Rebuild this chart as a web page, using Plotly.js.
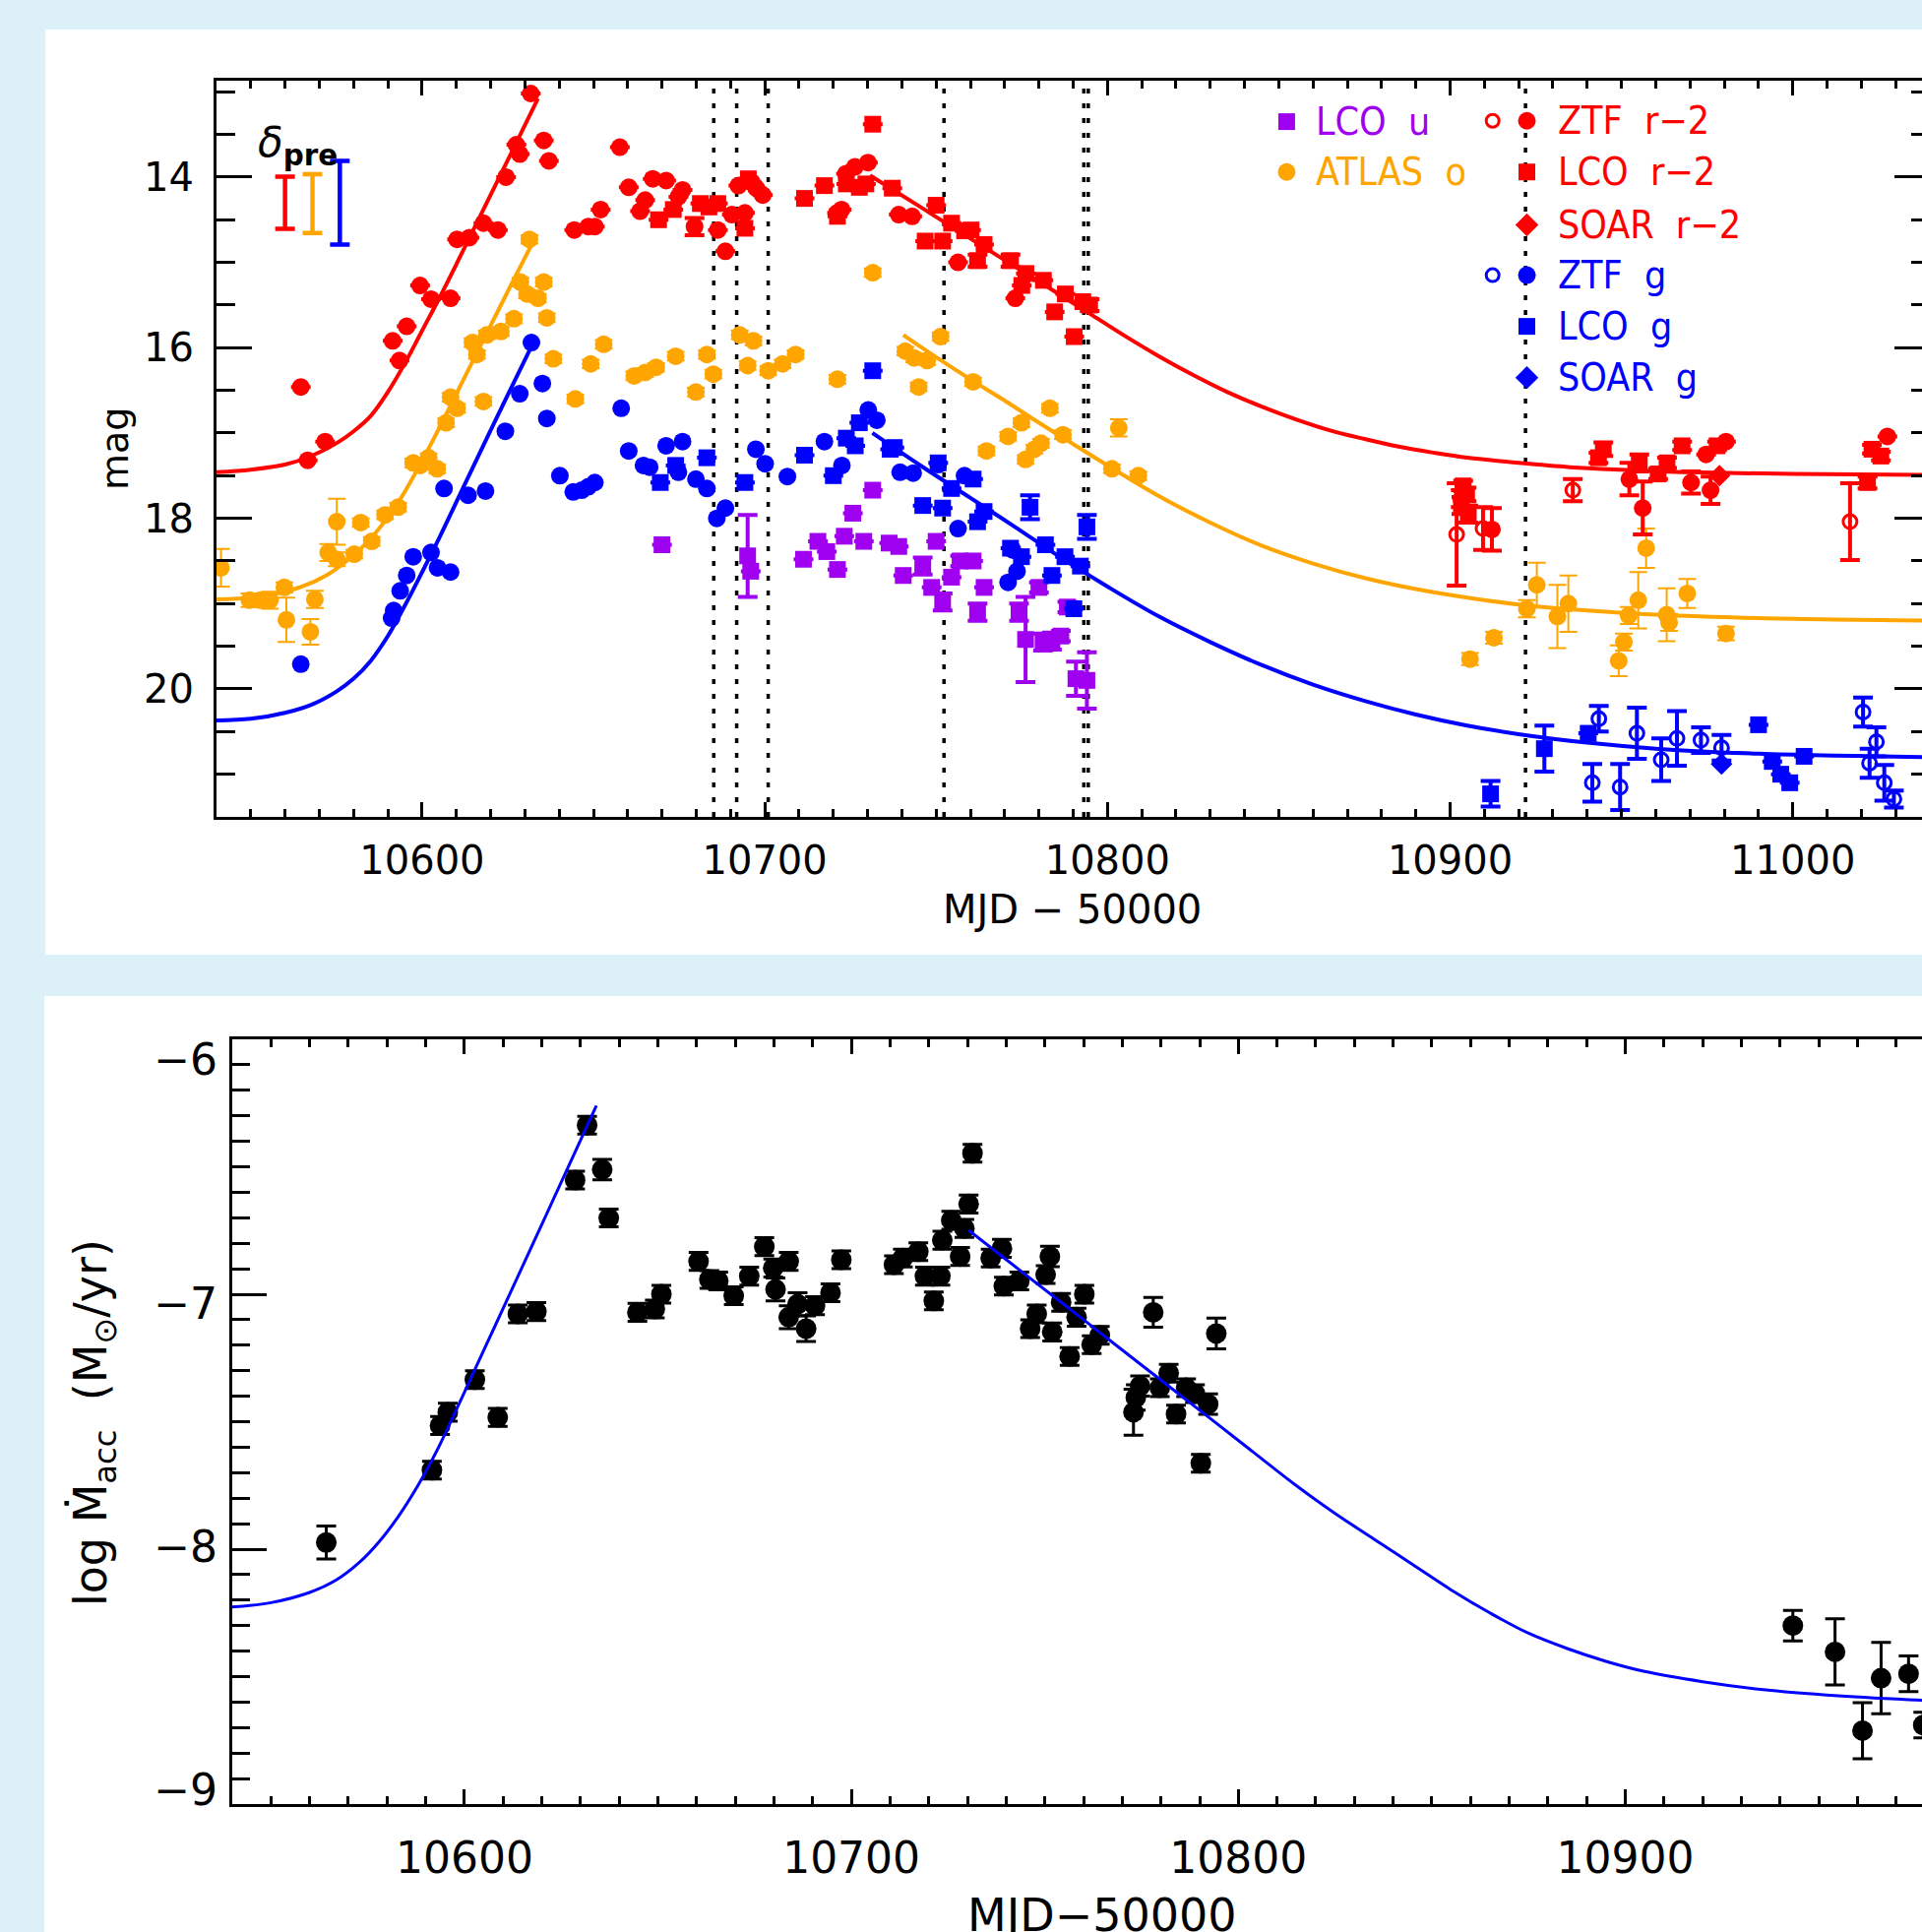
<!DOCTYPE html>
<html><head><meta charset="utf-8">
<script src="https://cdn.plot.ly/plotly-3.0.1.min.js"></script>
<style>
html,body{margin:0;padding:0;overflow:hidden;background:#dcf0f8;}
#page{position:relative;width:1953px;height:1963px;overflow:hidden;background:#dcf0f8;}
.panel{position:absolute;background:#fff;}
#p1{left:46px;top:30px;width:2000px;height:940px;}
#p2{left:45px;top:1012px;width:2000px;height:1000px;}
#g1{position:absolute;left:0;top:0;width:2100px;height:1000px;}
#g2{position:absolute;left:0;top:1000px;width:2400px;height:1100px;}
</style></head><body>
<div id="page"><div class="panel" id="p1"></div><div class="panel" id="p2"></div><div id="g1"></div><div id="g2"></div></div>
<script>
// ---------------- DATA (top panel: magnitudes) ----------------
const ztfR_x = [10564.6,10566.6,10571.7,10591.4,10593.4,10595.5,10599.4,10602.6,10608.3,10610.2,10613.8,10617.9,10622.1,10624.5,10627.5,10628.5,10631.7,10635.5,10637.0,10644.4,10648.5,10650.4,10652.1,10657.7,10660.3,10663.6,10665.1,10667.3,10671.2,10676.0,10674.8,10679.5,10686.3,10688.5,10690.4,10694.2,10692.3,10696.2,10697.5,10699.4,10723.7,10726.3,10730.1,10721.1,10722.4,10739.1,10743.0,10756.4,10773.1,
  10912.2,10952.3,10956.2,10970.3,10974.7,10980.5,10976.0,11027.6];
const ztfR_y = [16.46,17.32,17.10,15.92,16.15,15.75,15.27,15.43,15.42,14.73,14.71,14.54,14.62,14.00,13.62,13.73,13.02,13.57,13.81,14.62,14.58,14.58,14.38,13.65,14.12,14.40,14.27,14.02,14.04,14.15,14.23,14.58,14.62,14.87,14.44,14.42,14.10,14.06,14.13,14.21,13.96,13.88,13.83,14.42,14.38,14.44,14.46,15.00,15.42,
  18.13,17.54,17.88,17.58,17.25,17.10,17.67,17.04];
const ztfR_err = [0,0,0,0,0,0,0,0,0,0,0,0,0,0,0,0,0,0,0,0,0,0,0,0,0,0,0,0,0,0,0,0.1,0,0,0,0,0,0,0,0,0,0,0,0,0,0,0,0,0,
  0.25,0.19,0.31,0.13,0,0,0.16,0];
const ztfRo_x = [10903.1,10901.9,10909.6,10935.8,11016.7];
const ztfRo_y = [17.77,18.19,18.12,17.67,18.04];
const ztfRo_err = [0.1,0.6,0.25,0.13,0.45];
const lcoR_x = [10669.0,10673.3,10681.2,10683.7,10686.3,10694.2,10695.2,10711.6,10717.4,10721.2,10723.8,10727.6,10729.5,10731.5,10737.2,10750.0,10754.5,10746.8,10751.9,10758.3,10760.2,10764.0,10762.1,10771.7,10776.2,10775.0,10781.3,10787.7,10784.6,10792.8,10794.8,10790.3,
  10903.8,10904.8,10903.3,10905.3,10944.7,10943.3,10955.2,10960.7,10963.3,10967.7,10977.9,11023.1,11025.7,11021.8];
const lcoR_y = [14.50,14.38,14.31,14.35,14.31,14.60,14.02,14.25,14.10,14.46,14.08,14.12,14.08,13.38,14.13,14.33,14.54,14.75,14.75,14.63,14.62,14.79,14.98,14.98,15.13,15.27,15.21,15.37,15.58,15.46,15.50,15.87,
  17.62,17.72,17.85,17.95,17.19,17.29,17.35,17.48,17.35,17.15,17.15,17.19,17.27,17.58];
const lcoR_err = [0,0,0,0,0,0,0,0,0,0,0,0,0,0,0,0,0,0,0,0,0,0,0.07,0.07,0,0,0,0,0,0,0.07,0,
  0.06,0.08,0.1,0.1,0.08,0.06,0.1,0.06,0.06,0.05,0.05,0.05,0.05,0.07];
const soarR_x = [10978.6];
const soarR_y = [17.50];
const atlas_x = [10541.3,10549.6,10552.8,10555.6,10559.8,10560.4,10567.4,10568.7,10572.6,10575.1,10575.1,10580.2,10582.1,10585.3,10589.2,10593.0,10597.4,10599.4,10601.9,10604.4,10607.0,10608.3,10610.2,10614.7,10616.0,10617.9,10618.9,10623.0,10626.8,10628.7,10630.6,10631.3,10633.8,10635.5,10636.4,10638.3,10644.7,10649.2,10653.0,10661.9,10665.1,10668.3,10674.0,10679.9,10683.1,10685.0,10692.7,10695.0,10696.7,10701.0,10705.2,10709.0,10721.2,10731.5,10741.0,10743.6,10744.9,10747.4,10751.3,10760.8,10764.7,10771.0,10774.9,10776.1,10778.7,10780.6,10783.2,10787.0,10803.3,10801.3,10809.0,
  10905.8,10912.8,10922.4,10925.3,10931.3,10934.5,10949.2,10950.7,10952.1,10954.9,10957.2,10963.2,10963.9,10969.2,10980.5];
const atlas_y = [18.58,18.96,18.96,18.96,18.81,19.19,19.33,18.95,18.40,18.48,18.04,18.42,18.05,18.27,17.96,17.87,17.35,17.38,17.29,17.42,16.88,16.58,16.71,15.94,16.08,16.63,15.85,15.81,15.66,15.23,15.37,14.73,15.42,15.23,15.65,16.13,16.60,16.19,15.96,16.33,16.29,16.23,16.10,16.52,16.08,16.31,15.85,16.21,15.92,16.27,16.19,16.08,16.37,15.12,16.04,16.12,16.46,16.15,15.87,16.40,17.21,17.04,16.88,17.31,17.19,17.12,16.71,17.02,16.94,17.42,17.50,
  19.65,19.40,19.06,18.78,19.15,19.00,19.67,19.45,19.14,18.96,18.35,19.13,19.22,18.88,19.35];
const atlas_err = [0.22,0.08,0.08,0.1,0.06,0.26,0.15,0.1,0.1,0.08,0.27,0.05,0.05,0.05,0.05,0.05,0.05,0.05,0.05,0.05,0.05,0.05,0.05,0.05,0.05,0.05,0.05,0.05,0.05,0.05,0.05,0.05,0.05,0.05,0.05,0.05,0.05,0.05,0.05,0.05,0.05,0.05,0.05,0.05,0.05,0.05,0.05,0.05,0.05,0.05,0.05,0.05,0.05,0.05,0.05,0.05,0.05,0.05,0.05,0.05,0.05,0.05,0.05,0.05,0.05,0.05,0.05,0.05,0.1,0.05,0.05,
  0.07,0.07,0.1,0.26,0.37,0.33,0.18,0.1,0.1,0.33,0.23,0.31,0.1,0.17,0.08];
const ztfG_x = [10564.6,10591.1,10591.7,10593.6,10595.5,10597.4,10602.6,10604.5,10608.3,10606.4,10613.4,10618.5,10624.3,10628.5,10631.9,10635.1,10636.4,10640.2,10644.1,10646.6,10648.5,10650.4,10658.1,10660.3,10664.6,10666.4,10671.2,10676.0,10674.8,10679.9,10683.1,10686.0,10688.5,10697.4,10700.1,10706.6,10717.4,10722.5,10730.2,10732.7,10739.5,10743.3,10750.6,10756.4,10758.3,10771.0,10772.3,10773.6];
const ztfG_y = [19.71,19.17,19.08,18.85,18.67,18.45,18.40,18.58,18.63,17.65,17.73,17.68,16.98,16.54,15.94,16.42,16.83,17.50,17.69,17.67,17.63,17.58,16.71,17.21,17.38,17.40,17.15,17.10,17.46,17.54,17.65,18.00,17.88,17.19,17.36,17.51,17.10,17.38,16.73,16.85,17.46,17.47,17.37,18.12,17.50,18.75,18.37,18.62];
const ztfGo_x = [10943.4,10941.5,10949.6,10954.5,10961.6,10966.2,10973.2,10979.2,11020.5,11024.4,11022.4,11026.7,11029.5];
const ztfGo_y = [20.35,21.10,21.15,20.52,20.83,20.58,20.60,20.69,20.27,20.62,20.87,21.10,21.29];
const ztfGo_err = [0.15,0.22,0.27,0.3,0.25,0.32,0.15,0.15,0.17,0.17,0.17,0.21,0.1];
const lcoG_x = [10669.5,10674.0,10683.1,10694.2,10711.6,10720.0,10723.8,10726.4,10727.6,10731.5,10736.6,10737.8,10746.1,10750.6,10751.9,10754.5,10760.8,10762.1,10764.0,10777.4,10771.7,10774.9,10781.9,10783.8,10787.6,10792.1,10794.0,10790.2,
  10911.8,10927.5,10940.3,10990.0,10994.0,10996.5,10999.1,11003.3];
const lcoG_y = [17.58,17.38,17.29,17.58,17.26,17.50,17.06,17.15,16.88,16.27,17.19,17.17,17.85,17.35,17.88,17.65,17.54,18.04,17.92,17.87,18.35,18.45,18.31,18.67,18.45,18.56,18.10,19.06,
  21.23,20.70,20.52,20.42,20.85,21.00,21.10,20.79];
const lcoG_err = [0,0,0,0,0,0,0,0,0,0,0,0,0,0,0,0,0,0,0,0.14,0,0,0,0,0,0,0.14,0,
  0.15,0.27,0,0,0,0,0,0];
const soarG_x = [10979.2];
const soarG_y = [20.88];
const lcoU_x = [10670.0,10695.0,10695.9,10711.3,10715.5,10718.1,10721.2,10723.2,10728.9,10725.7,10731.5,10736.3,10739.1,10740.4,10746.1,10748.7,10751.9,10750.0,10754.5,10757.0,10760.8,10762.1,10764.0,10774.2,10776.1,10780.0,10781.2,10783.8,10786.4,10788.3,10790.8,10794.0];
const lcoU_y = [18.31,18.44,18.62,18.48,18.27,18.39,18.60,18.21,18.27,17.94,17.67,18.29,18.33,18.67,18.56,18.81,18.98,18.27,18.69,18.50,18.50,19.10,18.81,19.10,19.42,18.81,19.45,19.44,19.38,19.04,19.88,19.90];
const lcoU_err = [0,0.48,0,0,0,0,0,0,0,0,0,0,0,0,0.1,0,0.1,0,0,0.06,0,0.1,0,0.1,0.5,0.06,0.1,0.1,0.06,0.06,0.2,0.33];
// fitted model curves
const fitRrise_x = [10540,10550,10560,10567,10575,10580,10585,10590,10595,10600,10605,10611,10618,10626,10633.8];
const fitRrise_y = [17.46,17.43,17.37,17.28,17.12,16.98,16.80,16.52,16.18,15.80,15.42,14.94,14.37,13.72,13.08];
const fitRdecl_x = [10730.7,10745,10760,10775,10785,10795.6,10805,10815,10825,10835,10845,10855,10865,10875,10885,10895,10905,10920,10935,10950,10970,11000,11040];
const fitRdecl_y = [13.98,14.34,14.72,15.10,15.35,15.62,15.86,16.10,16.32,16.52,16.69,16.84,16.97,17.07,17.16,17.23,17.29,17.35,17.40,17.43,17.46,17.48,17.49];
const fitOrise_x = [10540,10550,10558,10565,10572,10578,10584,10589,10594,10599,10604,10611,10619,10626,10633.5];
const fitOrise_y = [18.95,18.93,18.88,18.80,18.67,18.50,18.28,18.04,17.75,17.40,17.02,16.46,15.82,15.26,14.67];
const fitOdecl_x = [10740.4,10750,10760,10770,10780,10790,10800,10815,10830,10845,10860,10875,10890,10905,10920,10940,10960,10990,11040];
const fitOdecl_y = [15.85,16.11,16.37,16.62,16.88,17.13,17.38,17.74,18.05,18.32,18.53,18.70,18.83,18.93,19.01,19.08,19.13,19.17,19.20];
const fitBrise_x = [10540,10550,10560,10568,10575,10580,10585,10590,10595,10600,10605,10612,10619,10626,10633.2];
const fitBrise_y = [20.37,20.35,20.28,20.18,20.03,19.88,19.67,19.38,19.02,18.63,18.23,17.64,17.05,16.47,15.88];
const fitBdecl_x = [10731.4,10745,10760,10773,10786,10800,10815,10830,10845,10860,10875,10890,10905,10920,10940,10960,10990,11040];
const fitBdecl_y = [17.00,17.37,17.76,18.10,18.45,18.80,19.15,19.45,19.72,19.95,20.14,20.30,20.43,20.53,20.63,20.70,20.76,20.80];
const epochs_x = [10685.1,10691.8,10701.0,10752.3,10793.1,10794.4,10922.0];
const dpre_x = [10560,10568,10576];
const dpre_y = [14.30,14.31,14.30];
const dpre_err = [0.305,0.345,0.49];
// ---------------- DATA (bottom panel: accretion rate) ----------------
const macc_x = [10564.3,10591.6,10593.7,10595.7,10602.7,10608.6,10613.8,10618.6,10628.6,10631.7,10635.6,10637.3,10644.7,10649.2,10650.9,10660.5,10663.3,10665.6,10669.6,10673.6,10677.5,10679.8,10680.4,10683.8,10683.8,10686.1,10688.3,10690.6,10694.6,10697.4,10711.0,10713.3,10717.3,10719.0,10723.0,10721.3,10723.5,10725.8,10728.1,10729.2,10730.3,10731.3,10736.0,10738.9,10739.4,10743.4,10750.2,10751.3,10754.2,10760.2,10758.2,10747.9,10746.2,10751.9,10756.4,10762.1,10764.2,10778.0,10794.3,10773.5,10772.9,10774.6,10779.7,10782.0,10783.9,10786.5,10788.8,10792.2,10790.3,
  10943.3,10954.2,10961.3,10966.1,10973.2,10977.0];
const macc_y = [-7.974,-7.690,-7.515,-7.463,-7.335,-7.483,-7.077,-7.068,-6.552,-6.337,-6.511,-6.701,-7.071,-7.058,-7.000,-6.871,-6.942,-6.948,-7.006,-6.929,-6.813,-6.897,-6.981,-6.871,-7.090,-7.039,-7.135,-7.045,-6.994,-6.865,-6.884,-6.858,-6.833,-6.929,-6.929,-7.026,-6.788,-6.710,-6.852,-6.742,-6.646,-6.447,-6.858,-6.820,-6.968,-6.948,-6.923,-6.852,-7.032,-7.000,-7.090,-7.077,-7.135,-7.148,-7.244,-7.198,-7.161,-7.071,-7.154,-7.405,-7.463,-7.360,-7.367,-7.310,-7.470,-7.367,-7.390,-7.431,-7.663,
  -8.300,-8.403,-8.712,-8.506,-8.489,-8.690];
const macc_err = [0.065,0.035,0.035,0.035,0.035,0.035,0.035,0.035,0.035,0.035,0.04,0.035,0.035,0.035,0.035,0.035,0.035,0.035,0.035,0.035,0.035,0.035,0.045,0.035,0.045,0.045,0.05,0.035,0.035,0.035,0.035,0.035,0.035,0.035,0.035,0.035,0.035,0.035,0.035,0.035,0.035,0.035,0.035,0.035,0.035,0.035,0.035,0.04,0.035,0.035,0.035,0.035,0.035,0.035,0.035,0.035,0.035,0.058,0.06,0.05,0.09,0.04,0.035,0.035,0.035,0.035,0.035,0.04,0.035,
  0.06,0.13,0.11,0.14,0.07,0.05];
const fit2rise_x = [10540,10550,10560,10567,10573,10578,10583,10588,10593,10598,10605,10612,10618,10623,10628,10634.1];
const fit2rise_y = [-8.227,-8.210,-8.170,-8.120,-8.050,-7.970,-7.870,-7.750,-7.610,-7.450,-7.220,-6.990,-6.792,-6.627,-6.462,-6.260];
const fit2decl_x = [10730.3,10745,10760,10775,10790,10804,10815,10825,10835,10845,10855,10865,10875,10885,10895,10905,10920,10935,10955,10980,11010,11040];
const fit2decl_y = [-6.749,-6.923,-7.100,-7.278,-7.455,-7.621,-7.751,-7.860,-7.960,-8.060,-8.160,-8.250,-8.330,-8.390,-8.440,-8.480,-8.520,-8.550,-8.575,-8.595,-8.612,-8.622];

// ---------------- STYLE ----------------
const RED='#ff0000', ORANGE='#ffa500', BLUE='#0000ff', PURPLE='#a000f0', BLACK='#000000';
const NUMFONT = 'DejaVu Sans, Liberation Sans, sans-serif';
const LEGFONT = "'Liberation Sans Narrow', 'DejaVu Sans Condensed', 'Liberation Sans', sans-serif";

function pts(x, y, err, sym, color, size, th, cap) {
  const open = sym.indexOf('open') >= 0;
  const t = {type:'scatter', mode:'markers', x:x, y:y, hoverinfo:'skip', showlegend:false,
    marker:{symbol:sym, color:color, size:size, line:{width: open ? 3 : 0, color:color}}};
  if (err) t.error_y = {type:'data', array:err, visible:true, color:color, thickness:th||3, width:cap||9};
  return t;
}
function curve(x, y, color, w) {
  return {type:'scatter', mode:'lines', x:x, y:y, hoverinfo:'skip', showlegend:false,
    line:{color:color, width:w, shape:'spline', smoothing:1}};
}

// ---------------- TOP PANEL ----------------
const traces1 = [
  pts(atlas_x, atlas_y, atlas_err, 'circle', ORANGE, 18, 2, 9),
  pts(lcoU_x, lcoU_y, lcoU_err, 'square', PURPLE, 17, 4, 10),
  pts(ztfG_x, ztfG_y, null, 'circle', BLUE, 18),
  pts(lcoG_x, lcoG_y, lcoG_err, 'square', BLUE, 17, 4, 10),
  pts(ztfGo_x, ztfGo_y, ztfGo_err, 'circle-open', BLUE, 14, 4, 10),
  pts(soarG_x, soarG_y, null, 'diamond', BLUE, 17),
  pts(ztfR_x, ztfR_y, ztfR_err, 'circle', RED, 18, 4, 10),
  pts(lcoR_x, lcoR_y, lcoR_err, 'square', RED, 17, 4, 10),
  pts(ztfRo_x, ztfRo_y, ztfRo_err, 'circle-open', RED, 14, 4, 10),
  pts(soarR_x, soarR_y, null, 'diamond', RED, 17),
  curve(fitRrise_x, fitRrise_y, RED, 4), curve(fitRdecl_x, fitRdecl_y, RED, 4),
  curve(fitOrise_x, fitOrise_y, ORANGE, 4), curve(fitOdecl_x, fitOdecl_y, ORANGE, 4),
  curve(fitBrise_x, fitBrise_y, BLUE, 4), curve(fitBdecl_x, fitBdecl_y, BLUE, 4)
];
const dpreColors = [RED, ORANGE, BLUE];
dpre_x.forEach(function(v, i){
  traces1.push({type:'scatter', mode:'markers', x:[v], y:[dpre_y[i]], hoverinfo:'skip', showlegend:false,
    marker:{size:1, opacity:0},
    error_y:{type:'data', array:[dpre_err[i]], visible:true, color:dpreColors[i], thickness:4.5, width:10}});
});
// legend key (positions are layout, in axis units)
const legendMarks = [
  {x:10852.3, y:13.35, s:'square', c:PURPLE, z:17},
  {x:10852.3, y:13.94, s:'circle', c:ORANGE, z:18},
  {x:10912.4, y:13.34, s:'circle-open', c:RED, z:13},
  {x:10922.4, y:13.34, s:'circle', c:RED, z:18},
  {x:10922.4, y:13.94, s:'square', c:RED, z:17},
  {x:10922.4, y:14.56, s:'diamond', c:RED, z:18},
  {x:10912.4, y:15.15, s:'circle-open', c:BLUE, z:13},
  {x:10922.4, y:15.15, s:'circle', c:BLUE, z:18},
  {x:10922.4, y:15.75, s:'square', c:BLUE, z:17},
  {x:10922.4, y:16.35, s:'diamond', c:BLUE, z:18}
];
legendMarks.forEach(function(m){
  traces1.push({type:'scatter', mode:'markers', x:[m.x], y:[m.y], hoverinfo:'skip', showlegend:false, cliponaxis:false,
    marker:{symbol:m.s, color:m.c, size:m.z, line:{width: m.s.indexOf('open')>=0 ? 3 : 0, color:m.c}}});
});
const NB = '\u00a0';
const legendTexts = [
  {x:10860.3, y:13.35, t:'LCO'+NB+NB+'u', c:PURPLE},
  {x:10860.3, y:13.94, t:'ATLAS'+NB+NB+'o', c:ORANGE},
  {x:10930.8, y:13.34, t:'ZTF'+NB+NB+'r\u22122', c:RED},
  {x:10930.8, y:13.94, t:'LCO'+NB+NB+'r\u22122', c:RED},
  {x:10930.8, y:14.56, t:'SOAR'+NB+NB+'r\u22122', c:RED},
  {x:10930.8, y:15.15, t:'ZTF'+NB+NB+'g', c:BLUE},
  {x:10930.8, y:15.75, t:'LCO'+NB+NB+'g', c:BLUE},
  {x:10930.8, y:16.35, t:'SOAR'+NB+NB+'g', c:BLUE}
];
const ann1 = legendTexts.map(function(l){
  return {xref:'x', yref:'y', x:l.x, y:l.y, text:l.t, showarrow:false, xanchor:'left', yanchor:'middle',
    font:{family:LEGFONT, size:39, color:l.c}};
});
ann1.push({xref:'x', yref:'y', x:10563.6, y:13.63, text:'<i>δ</i><sub><b>pre</b></sub>', showarrow:false,
  xanchor:'center', yanchor:'middle', font:{family:NUMFONT, size:42, color:BLACK}});
ann1.push({xref:'paper', yref:'paper', x:0.4997, y:-0.1257, text:'MJD'+NB+'\u2212'+NB+'50000', showarrow:false,
  xanchor:'center', yanchor:'middle', font:{family:NUMFONT, size:40, color:BLACK}});
ann1.push({xref:'paper', yref:'paper', x:-0.0592, y:0.5, text:'mag', showarrow:false, textangle:-90,
  xanchor:'center', yanchor:'middle', font:{family:NUMFONT, size:38, color:BLACK}});

const axBase = {showline:true, linecolor:BLACK, linewidth:3, mirror:'ticks', ticks:'inside', tickcolor:BLACK, tickwidth:3,
  showgrid:false, zeroline:false};
const layout1 = {
  width:2100, height:1000, margin:{l:220, r:139, t:82, b:170},
  paper_bgcolor:'rgba(0,0,0,0)', plot_bgcolor:'rgba(0,0,0,0)', showlegend:false,
  xaxis: Object.assign({}, axBase, {range:[10540,11040], tick0:10600, dtick:100, ticklen:15, tickformat:'d',
    minor:{tick0:10500, dtick:10, ticklen:8, tickwidth:3, tickcolor:BLACK, ticks:'inside', showgrid:false},
    tickfont:{family:NUMFONT, size:40, color:BLACK}, ticklabelstandoff:7}),
  yaxis: Object.assign({}, axBase, {range:[21.5,12.87], tick0:0, dtick:2, ticklen:36,
    minor:{tick0:0, dtick:0.5, ticklen:19, tickwidth:3, tickcolor:BLACK, ticks:'inside', showgrid:false},
    tickfont:{family:NUMFONT, size:40, color:BLACK}, ticklabelstandoff:12}),
  shapes: epochs_x.map(function(v){ return {type:'line', xref:'x', yref:'y domain', x0:v, x1:v, y0:0, y1:1, layer:'below',
    line:{color:BLACK, width:3.5, dash:'5px,10px'}}; }),
  annotations: ann1
};

// ---------------- BOTTOM PANEL ----------------
const traces2 = [
  pts(macc_x, macc_y, macc_err, 'circle', BLACK, 21, 3, 10),
  curve(fit2rise_x, fit2rise_y, BLUE, 3), curve(fit2decl_x, fit2decl_y, BLUE, 3),
  {type:'scatter', mode:'markers', x:[], y:[], yaxis:'y2', hoverinfo:'skip', showlegend:false}
];
const layout2 = {
  width:2400, height:1100, margin:{l:236, r:198, t:56, b:267},
  paper_bgcolor:'rgba(0,0,0,0)', plot_bgcolor:'rgba(0,0,0,0)', showlegend:false,
  xaxis: Object.assign({}, axBase, {range:[10540,11040], tick0:10600, dtick:100, ticklen:15, tickformat:'d',
    minor:{tick0:10500, dtick:10, ticklen:8, tickwidth:3, tickcolor:BLACK, ticks:'inside', showgrid:false},
    tickfont:{family:NUMFONT, size:44, color:BLACK}, ticklabelstandoff:14}),
  yaxis: Object.assign({}, axBase, {range:[-9,-6], tick0:0, dtick:1, ticklen:35, showticklabels:false,
    minor:{tick0:0, dtick:0.1, ticklen:18, tickwidth:3, tickcolor:BLACK, ticks:'inside', showgrid:false}}),
  yaxis2: {overlaying:'y', side:'left', anchor:'x', range:[-9.057,-5.915], tickvals:[-9,-8,-7,-6], ticks:'',
    showline:false, showgrid:false, zeroline:false, tickfont:{family:NUMFONT, size:44, color:BLACK}, ticklabelstandoff:14},
  annotations: [
    {xref:'paper', yref:'paper', x:0.4497, y:-0.1454, text:'MJD\u221250000', showarrow:false, xanchor:'center', yanchor:'middle',
      font:{family:NUMFONT, size:46, color:BLACK}},
    {xref:'paper', yref:'paper', x:-0.0717, y:0.498, text:'log'+NB+'\u1E40<sub>acc</sub>'+NB+NB+'(M<sub>\u2299</sub>/yr)', showarrow:false,
      textangle:-90, xanchor:'center', yanchor:'middle', font:{family:NUMFONT, size:46, color:BLACK}}
  ]
};

Plotly.newPlot('g1', traces1, layout1, {staticPlot:true, displayModeBar:false});
Plotly.newPlot('g2', traces2, layout2, {staticPlot:true, displayModeBar:false});
</script></body></html>
